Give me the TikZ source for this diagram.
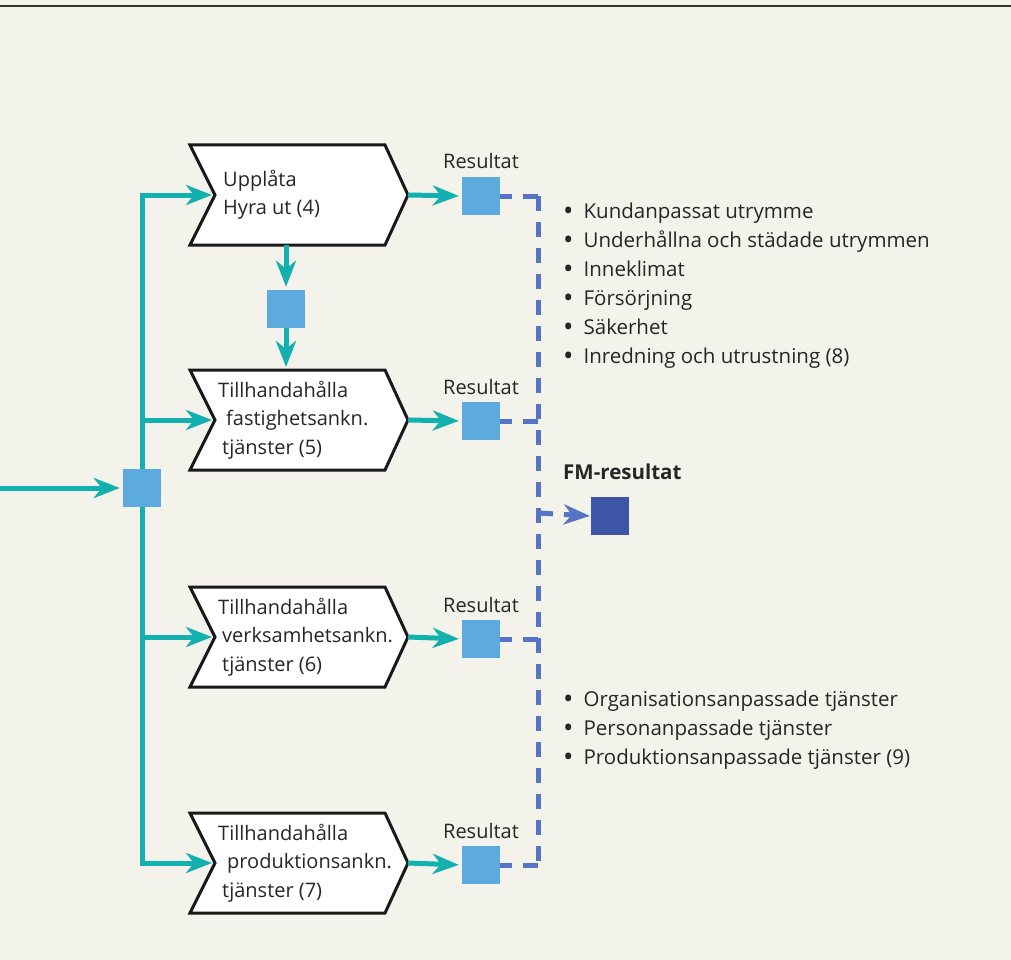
\documentclass[tikz,border=0pt]{standalone}
\usepackage{fontspec}
\setmainfont{Open Sans}
\usetikzlibrary{arrows.meta,calc}
\definecolor{bg}{HTML}{F3F2EB}
\definecolor{flowteal}{HTML}{12B0AE}
\definecolor{sqblue}{HTML}{5DAADE}
\definecolor{dashblue}{HTML}{5773C3}
\definecolor{fmblue}{HTML}{3C55A6}

% chevron-shaped process box: name, centre y, text
\newcommand\chevbox[3]{%
  \filldraw[chev] (190,#2-50) -- (385,#2-50) -- (408,#2) -- (385,#2+50)
    -- (190,#2+50) -- (215,#2) -- cycle;
  \coordinate (#1-in) at (215,#2);
  \coordinate (#1-out) at (408,#2);
  \coordinate (#1-top) at (286,#2-50);
  \coordinate (#1-bot) at (286,#2+50);
  \node[lbl, anchor=west] (#1) at (218,#2) {#3};
}
% list bullet
\newcommand\lbul{\raisebox{-1.8pt}{\scalebox{1.35}{•}}\hspace{10pt}}

\begin{document}
\begin{tikzpicture}[x=1pt,y=-1pt,
  chev/.style={fill=white, draw=black!90, line width=3pt, line join=miter},
  lbl/.style={inner sep=0pt, align=left, font=\fontsize{20}{28.5}\selectfont, text=black!85},
  flow/.style={draw=flowteal, line width=5pt,
    -{Stealth[length=26pt,width=20pt,inset=8pt,fill=flowteal]}, shorten >=3pt},
  sq/.style={fill=sqblue, minimum size=38pt, inner sep=0pt},
  fmsq/.style={fill=fmblue, minimum size=38pt, inner sep=0pt},
  dashed line/.style={draw=dashblue, line width=5pt, dash pattern=on 15pt off 11pt},
  dasharrow/.style={dashed line, -{Stealth[length=26pt,width=20pt,inset=8pt,fill=dashblue]}, shorten >=1pt},
  restext/.style={inner sep=0pt, anchor=base, font=\fontsize{20}{24}\selectfont, text=black!85},
  bullets/.style={inner sep=0pt, align=left, anchor=west, font=\fontsize{20.5}{29}\selectfont, text=black!85}
]
\fill[bg] (0,0) rectangle (1011,960);
\useasboundingbox (0,0) rectangle (1011,960);
\draw[line width=2pt, black!80] (0,6) -- (1011,6);

% hub squares
\node[sq] (hub) at (142,488) {};
\node[sq] (mid) at (286,309) {};
\coordinate (src) at (0,488);

% process boxes
\chevbox{p1}{195}{\hspace{5pt}Upplåta\\\hspace{5pt}Hyra ut (4)}
\chevbox{p2}{420}{Tillhandahålla\\\hspace{8pt}fastighetsankn.\\\hspace{4pt}tjänster (5)}
\chevbox{p3}{637}{Tillhandahålla\\\hspace{4pt}verksamhetsankn.\\\hspace{4pt}tjänster (6)}
\chevbox{p4}{863}{Tillhandahålla\\\hspace{9pt}produktionsankn.\\\hspace{4pt}tjänster (7)}

% result squares
\node[sq] (r1) at (481,196) {};
\node[sq] (r2) at (481,421) {};
\node[sq] (r3) at (481,639) {};
\node[sq] (r4) at (481,865) {};
\node[fmsq] (fm) at (610,516) {};

% dashed collector line
\coordinate (j1) at (538,196);
\coordinate (j2) at (538,421);
\coordinate (j3) at (538,639);
\coordinate (j4) at (538,865);
\coordinate (jf) at (538,513);
\draw[dashed line] (j1) -- (j4);
\draw[dashed line] (j1) -- (r1.center);
\draw[dashed line] (j2) -- (r2.center);
\draw[dashed line] (j3) -- (r3.center);
\draw[dashed line] (j4) -- (r4.center);
\draw[dasharrow] (jf) -- (fm.west);

% teal flows
\draw[flow] (src) -- (hub.west);
\draw[flow] (hub.center) |- (p1-in);
\draw[flow] (hub.center) |- (p2-in);
\draw[flow] (hub.center) |- (p3-in);
\draw[flow] (hub.center) |- (p4-in);
\draw[flow] (p1-bot) -- (mid.north);
\draw[flow] (mid.south) -- (p2-top);
\draw[flow] (p1-out) -- (r1.west);
\draw[flow] (p2-out) -- (r2.west);
\draw[flow] (p3-out) -- (r3.west);
\draw[flow] (p4-out) -- (r4.west);

% squares redrawn on top of the lines
\node[sq] at (hub) {};
\node[sq] at (mid) {};
\node[sq] at (r1) {};
\node[sq] at (r2) {};
\node[sq] at (r3) {};
\node[sq] at (r4) {};
\node[fmsq] at (fm) {};

% result labels
\node[restext] (l1) at (481,169) {Resultat};
\node[restext] (l2) at (481,394) {Resultat};
\node[restext] (l3) at (481,612) {Resultat};
\node[restext] (l4) at (481,838) {Resultat};
\node[restext, anchor=base west, font=\fontsize{20.5}{24}\selectfont\bfseries] (fmlabel) at (563,479) {FM-resultat};

% outcome lists
\node[bullets] (list1) at (563,286) {\lbul Kundanpassat utrymme\\\lbul Underhållna och städade utrymmen\\\lbul Inneklimat\\\lbul Försörjning\\\lbul Säkerhet\\\lbul Inredning och utrustning (8)};
\node[bullets] (list2) at (563,730) {\lbul Organisationsanpassade tjänster\\\lbul Personanpassade tjänster\\\lbul Produktionsanpassade tjänster (9)};
\end{tikzpicture}
\end{document}
